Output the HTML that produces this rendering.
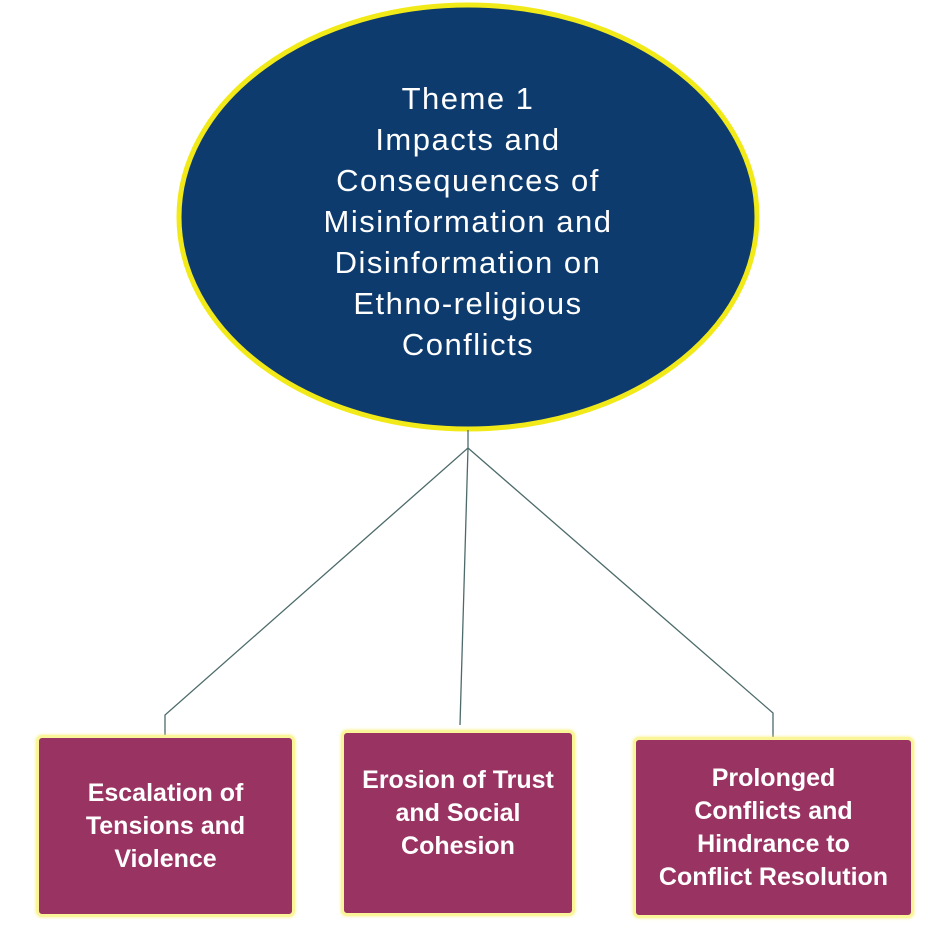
<!DOCTYPE html>
<html><head><style>
body{margin:0;width:934px;height:932px;background:#fff;position:relative;overflow:hidden;font-family:"Liberation Sans",sans-serif}
.box{position:absolute;background:#993362;border:3px solid #fbf59a;border-radius:6px;box-shadow:0 0 3px #f5ee7a;color:#fff;font-weight:bold;font-size:25px;line-height:33px;text-align:center;display:flex;align-items:center;justify-content:center;letter-spacing:0px}
</style></head><body>
<svg width="934" height="932" style="position:absolute;left:0;top:0">
<ellipse cx="468" cy="217" rx="289" ry="212" fill="#0d3b6e" stroke="#f2ea18" stroke-width="5"/>
<g stroke="#4d6a6a" stroke-width="1.3" fill="none">
<polyline points="468,430 468,448 165,715 165,736"/>
<polyline points="468,448 460,725"/>
<polyline points="468,448 773,713 773,738"/>
</g>
<g fill="#fff" font-size="31" letter-spacing="1.5" text-anchor="middle" font-family="Liberation Sans, sans-serif">
<text x="468" y="109">Theme 1</text>
<text x="468" y="150">Impacts and</text>
<text x="468" y="191">Consequences of</text>
<text x="468" y="232">Misinformation and</text>
<text x="468" y="273">Disinformation on</text>
<text x="468" y="314">Ethno-religious</text>
<text x="468" y="355">Conflicts</text>
</g>
</svg>
<div class="box" style="left:36px;top:735px;width:253px;height:176px">Escalation of<br>Tensions and<br>Violence</div>
<div class="box" style="left:341px;top:730px;width:234px;padding-bottom:20px;box-sizing:border-box;height:186px">Erosion of Trust<br>and Social<br>Cohesion</div>
<div class="box" style="left:633px;top:737px;width:275px;height:175px">Prolonged<br>Conflicts and<br>Hindrance to<br>Conflict Resolution</div>
</body></html>
